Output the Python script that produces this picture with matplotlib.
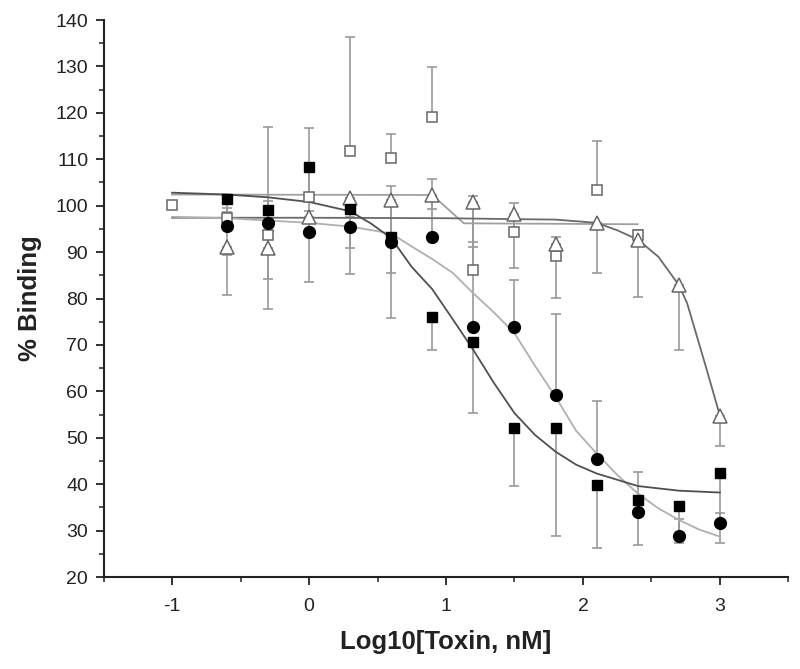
import matplotlib
matplotlib.use("Agg")
import matplotlib.pyplot as plt

plt.rcParams['font.family'] = ['Liberation Sans', 'DejaVu Sans']
plt.rcParams['axes.unicode_minus'] = False

# measured points (log10 nM); error bars are one-sided in the original
x_sq = [-0.6, -0.3, 0, 0.3, 0.6, 0.9, 1.2, 1.5, 1.8, 2.1, 2.4, 2.7, 3.0]
y_sq = [101.4, 99.0, 108.4, 99.2, 93.3, 76.0, 70.7, 52.2, 52.2, 39.8, 36.6, 35.3, 42.5]
lo_sq = [12, 14.7, 9.5, 8.4, 17.6, 7.1, 15.4, 12.6, 23.3, 13.6, 9.7, 7.9, 15.2]

x_ci = [-0.6, -0.3, 0, 0.3, 0.6, 0.9, 1.2, 1.5, 1.8, 2.1, 2.4, 2.7, 3.0]
y_ci = [95.6, 96.3, 94.4, 95.5, 92.2, 93.3, 73.9, 73.9, 59.2, 45.4, 33.9, 28.9, 31.7]
up_ci = [3, 4.7, 2, 2, 12.1, 12.4, 18.3, 10.1, 17.5, 12.6, 8.8, 3.7, 2]

x_osq = [-1, -0.6, -0.3, 0, 0.3, 0.6, 0.9, 1.2, 1.5, 1.8, 2.1, 2.4]
y_osq = [100.2, 97.4, 93.7, 101.9, 111.8, 110.2, 119.2, 86.1, 94.4, 89.2, 103.4, 93.7]
up_osq = [0, 2, 23.3, 14.8, 24.5, 5.2, 10.6, 15.9, 6.1, 4, 10.5, 1]

x_tri = [-0.6, -0.3, 0, 0.3, 0.6, 0.9, 1.2, 1.5, 1.8, 2.1, 2.4, 2.7, 3.0]
y_tri = [91.2, 90.8, 97.6, 101.6, 101.2, 102.3, 100.8, 98.3, 91.7, 96.3, 92.7, 82.9, 54.7]
lo_tri = [10.5, 13.1, 14, 16.4, 15.8, 3, 9.6, 11.7, 11.5, 10.9, 12.3, 14, 6.5]

# fitted curves
fx_sq = [-1, -0.6, -0.3, 0, 0.15, 0.3, 0.45, 0.6, 0.75, 0.9, 1.05, 1.2, 1.35, 1.5,
         1.65, 1.8, 1.95, 2.1, 2.4, 2.7, 3.0]
fy_sq = [102.8, 102.4, 101.8, 100.8, 99.8, 98.8, 96.2, 93.0, 86.8, 82.0, 75.5, 68.9,
         61.8, 55.3, 50.6, 47.0, 44.2, 42.3, 39.6, 38.6, 38.2]

fx_ci = [-1, -0.6, -0.3, 0, 0.3, 0.6, 0.75, 0.9, 1.05, 1.2, 1.35, 1.5, 1.65, 1.8,
         1.95, 2.1, 2.25, 2.4, 2.55, 2.7, 2.85, 3.0]
fy_ci = [97.6, 97.3, 96.8, 96.3, 95.5, 94.0, 91.2, 88.5, 85.5, 81.1, 77.0, 72.5,
         65.5, 58.8, 51.5, 46.6, 42.0, 38.0, 34.8, 32.3, 30.2, 28.7]

fx_osq = [-1, 0.9, 1.13, 2.4]
fy_osq = [102.4, 102.3, 96.2, 96.0]

fx_tri = [-1, 0, 1.0, 1.5, 1.8, 2.1, 2.25, 2.4, 2.55, 2.7, 2.76, 2.85, 2.9, 3.0]
fy_tri = [97.4, 97.4, 97.3, 97.1, 97.0, 96.3, 94.7, 92.7, 89.0, 82.9, 79.0, 70.0, 65.0, 54.7]

fig = plt.figure(figsize=(8, 6.69), dpi=100)
ax = fig.add_axes([0.1294, 0.1375, 0.8562, 0.8326])

ax.plot(fx_osq, fy_osq, color='#a0a0a0', lw=1.3, zorder=2)
ax.plot(fx_tri, fy_tri, color='#6a6a6a', lw=1.3, zorder=2)
ax.plot(fx_ci, fy_ci, color='#b0b0b0', lw=1.3, zorder=2)
ax.plot(fx_sq, fy_sq, color='#505050', lw=1.3, zorder=2)

ekw = dict(fmt='none', ecolor='#999999', elinewidth=1.2, capsize=3.8, capthick=1.2, zorder=1)
ax.errorbar(x_osq, y_osq, yerr=[[0] * len(up_osq), up_osq], **ekw)
ax.errorbar(x_tri, y_tri, yerr=[lo_tri, [0] * len(lo_tri)], **ekw)
ax.errorbar(x_sq, y_sq, yerr=[lo_sq, [0] * len(lo_sq)], **ekw)
ax.errorbar(x_ci, y_ci, yerr=[[0] * len(up_ci), up_ci], **ekw)

ax.plot(x_osq, y_osq, 's', ms=7.5, mfc='white', mec='#666666', mew=1.1, zorder=3)
ax.plot(x_tri, y_tri, '^', ms=9.5, mfc='white', mec='#666666', mew=1.1, zorder=3)
ax.plot(x_sq, y_sq, 's', ms=7.5, color='black', zorder=4)
ax.plot(x_ci, y_ci, 'o', ms=8.5, color='black', zorder=4)

ax.set_xlim(-1.5, 3.5)
ax.set_ylim(20, 140)
ax.set_xticks([-1, 0, 1, 2, 3])
ax.set_xticks([-1.5, -0.5, 0.5, 1.5, 2.5, 3.5], minor=True)
ax.set_yticks(range(20, 141, 10))
ax.set_yticks(range(25, 140, 10), minor=True)

for s in ['top', 'right']:
    ax.spines[s].set_visible(False)
for s in ['left', 'bottom']:
    ax.spines[s].set_linewidth(1.5)
    ax.spines[s].set_color('#222222')
ax.tick_params(which='major', length=6, width=1.3, labelsize=14, color='#222222',
               labelcolor='#222222')
ax.tick_params(which='minor', length=3.5, width=1.1, color='#222222')
ax.tick_params(axis='x', pad=9)
ax.tick_params(axis='y', pad=5)

ax.set_xlabel('Log10[Toxin, nM]', fontsize=18.5, fontweight='bold', labelpad=11,
              color='#222222')
ax.set_ylabel('% Binding', fontsize=18.5, fontweight='bold', labelpad=10,
              color='#222222')

fig.savefig('out.png', dpi=100)
